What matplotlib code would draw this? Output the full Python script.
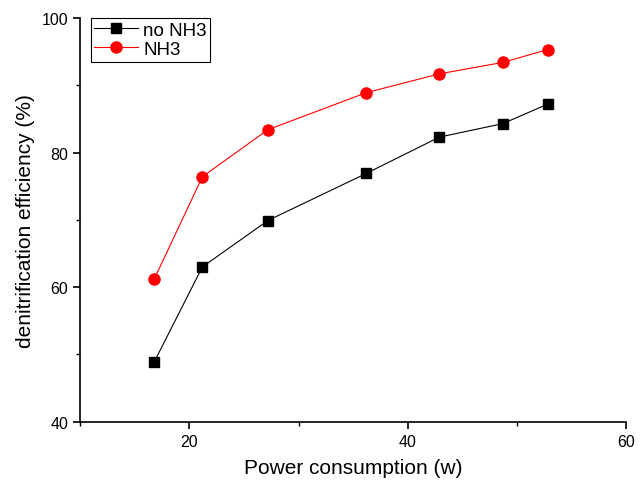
import matplotlib.pyplot as plt
from matplotlib.ticker import MultipleLocator

plt.rcParams['font.family'] = ['Liberation Sans', 'DejaVu Sans']

# power consumption (w)
power = [16.8, 21.2, 27.2, 36.2, 42.9, 48.7, 52.8]
# denitrification efficiency (%)
eff_no_nh3 = [48.9, 63.0, 69.9, 76.9, 82.3, 84.3, 87.2]
eff_nh3 = [61.2, 76.4, 83.4, 88.9, 91.7, 93.4, 95.3]

fig = plt.figure(figsize=(6.43, 4.81), dpi=100)
ax = fig.add_axes([0.1244, 0.1212, 0.8496, 0.8393])

ax.plot(power, eff_no_nh3, 'k-', marker='s', ms=7, lw=0.8, label='no NH3')
ax.plot(power, eff_nh3, '-', color='red', marker='o', mfc='red', mec='red',
        ms=8, lw=0.8, label='NH3')

ax.set_xlim(10, 60)
ax.set_ylim(40, 100)
ax.xaxis.set_major_locator(MultipleLocator(20))
ax.xaxis.set_minor_locator(MultipleLocator(10))
ax.yaxis.set_major_locator(MultipleLocator(20))
ax.yaxis.set_minor_locator(MultipleLocator(10))
ax.tick_params(which='major', direction='out', length=5, width=1.2, labelsize=11.5)
ax.tick_params(which='minor', direction='out', length=3, width=1.0)

ax.spines['top'].set_visible(False)
ax.spines['right'].set_visible(False)
ax.spines['left'].set_linewidth(1.2)
ax.spines['bottom'].set_linewidth(1.2)

ax.set_xlabel('Power consumption (w)', fontsize=15, labelpad=7)
ax.set_ylabel('denitrification efficiency (%)', fontsize=15, labelpad=5)

leg = ax.legend(loc='upper left', bbox_to_anchor=(0.0196, 1.0), fontsize=13.5,
                fancybox=False, framealpha=1, edgecolor='black', borderaxespad=0,
                handlelength=2.3, borderpad=0.2, labelspacing=0.1,
                handletextpad=0.3)
leg.get_frame().set_linewidth(0.8)

plt.savefig('out.png', dpi=100)
